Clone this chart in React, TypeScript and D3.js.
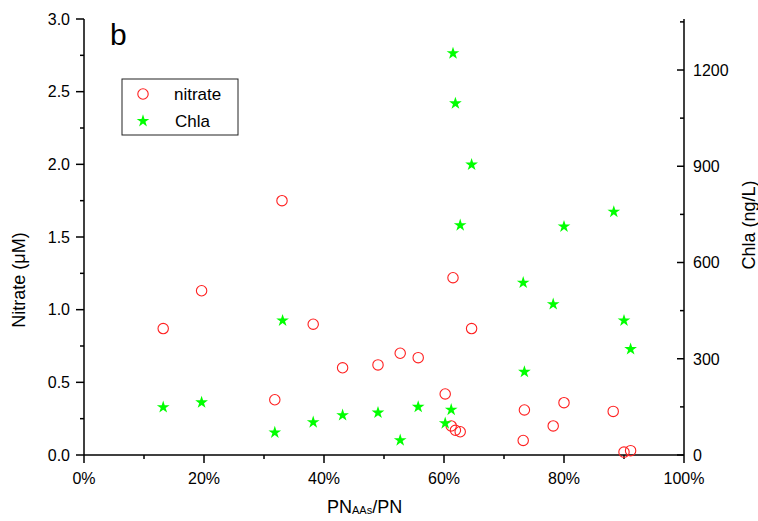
import { scaleLinear, symbol, symbolStar, range } from "d3";

const W = 758;
const H = 521;
const FONT = "'Liberation Sans', Arial, sans-serif";

// PN_AAs/PN (%) for each sample
const nitrateX = [13.2, 19.6, 31.8, 33.0, 38.2, 43.1, 49.0, 52.7, 55.7, 60.2, 61.2, 61.5, 61.9, 62.7, 64.6, 73.2, 73.4, 78.2, 80.0, 88.2, 90.0, 91.1];
const nitrate = [0.87, 1.13, 0.38, 1.75, 0.9, 0.6, 0.62, 0.7, 0.67, 0.42, 0.2, 1.22, 0.17, 0.16, 0.87, 0.1, 0.31, 0.2, 0.36, 0.3, 0.02, 0.03];

const chlaX = [13.2, 19.6, 31.8, 33.1, 38.2, 43.1, 49.0, 52.7, 55.7, 60.2, 61.2, 61.5, 61.9, 62.7, 64.6, 73.2, 73.4, 78.2, 80.0, 88.3, 90.0, 91.1];
const chla = [149, 164, 70, 419, 102, 124, 132, 46, 150, 99, 141, 1252, 1096, 716, 905, 537, 259, 470, 712, 758, 419, 330];

const xTicks = [0, 20, 40, 60, 80, 100];
const leftTicks = [0, 0.5, 1.0, 1.5, 2.0, 2.5, 3.0];
const rightTicks = [0, 300, 600, 900, 1200];

const x = scaleLinear().domain([0, 100]).range([84, 684]);
const yL = scaleLinear().domain([0, 3]).range([455, 19]);
const yR = scaleLinear().domain([0, 1359]).range([455, 19]);

const starPath = symbol(symbolStar, 50)() ?? "";

function Star({ cx, cy }: { cx: number; cy: number }) {
  return <path d={starPath} transform={`translate(${cx},${cy})`} fill="#00ff00" />;
}

export default function App() {
  const [x0, x1] = x.range();
  const minorX = range(10, 100, 20);
  const minorL = range(0.25, 3, 0.5);
  const minorR = range(150, 1359, 300);

  return (
    <svg width={W} height={H} style={{ position: "absolute", left: 0, top: 0, background: "#fff" }} fontFamily={FONT}>
      {/* axes */}
      <g stroke="#000" strokeWidth={1.5} fill="none">
        <line x1={x0} x2={x0} y1={19} y2={455} />
        <line x1={x1} x2={x1} y1={19} y2={455} />
        <line x1={x0} x2={x1} y1={455} y2={455} />
        {xTicks.map((t) => <line key={`xt${t}`} x1={x(t)} x2={x(t)} y1={455} y2={463} />)}
        {minorX.map((t) => <line key={`xm${t}`} x1={x(t)} x2={x(t)} y1={455} y2={459} />)}
        {leftTicks.map((t) => <line key={`lt${t}`} x1={x0 - 8} x2={x0} y1={yL(t)} y2={yL(t)} />)}
        {minorL.map((t) => <line key={`lm${t}`} x1={x0 - 4} x2={x0} y1={yL(t)} y2={yL(t)} />)}
        {rightTicks.map((t) => <line key={`rt${t}`} x1={x1 - 7} x2={x1} y1={yR(t)} y2={yR(t)} />)}
        {minorR.map((t) => <line key={`rm${t}`} x1={x1 - 4} x2={x1} y1={yR(t)} y2={yR(t)} />)}
      </g>

      <g fontSize={16} fill="#000">
        {xTicks.map((t) => (
          <text key={`xl${t}`} x={x(t)} y={484} textAnchor="middle">{`${t}%`}</text>
        ))}
        {leftTicks.map((t) => (
          <text key={`ll${t}`} x={70} y={yL(t)} dy="0.36em" textAnchor="end">{t.toFixed(1)}</text>
        ))}
        {rightTicks.map((t) => (
          <text key={`rl${t}`} x={693} y={yR(t)} dy="0.36em" textAnchor="start">{t}</text>
        ))}
      </g>

      {/* axis titles */}
      <text x={327} y={513} fontSize={18} fill="#000">
        PN<tspan fontSize={11} dy={1}>AAs</tspan><tspan dy={-1}>/PN</tspan>
      </text>
      <text transform="translate(25,280) rotate(-90)" textAnchor="middle" fontSize={18} fill="#000">Nitrate (μM)</text>
      <text transform="translate(755,225) rotate(-90)" textAnchor="middle" fontSize={18} fill="#000">Chla (ng/L)</text>
      <text x={110} y={45} fontSize={30} fill="#000">b</text>

      {/* data */}
      {nitrate.map((v, i) => (
        <circle key={`n${i}`} cx={x(nitrateX[i])} cy={yL(v)} r={5.2} fill="none" stroke="#ff2020" strokeWidth={1.1} />
      ))}
      {chla.map((v, i) => (
        <Star key={`c${i}`} cx={x(chlaX[i])} cy={yR(v)} />
      ))}

      {/* legend */}
      <rect x={122} y={79} width={116} height={56} fill="#fff" stroke="#222" strokeWidth={1} />
      <circle cx={143} cy={94} r={5.2} fill="none" stroke="#ff2020" strokeWidth={1.1} />
      <text x={174} y={99.5} fontSize={17} fill="#000">nitrate</text>
      <Star cx={143} cy={121} />
      <text x={175} y={127} fontSize={17} fill="#000">Chla</text>
    </svg>
  );
}
